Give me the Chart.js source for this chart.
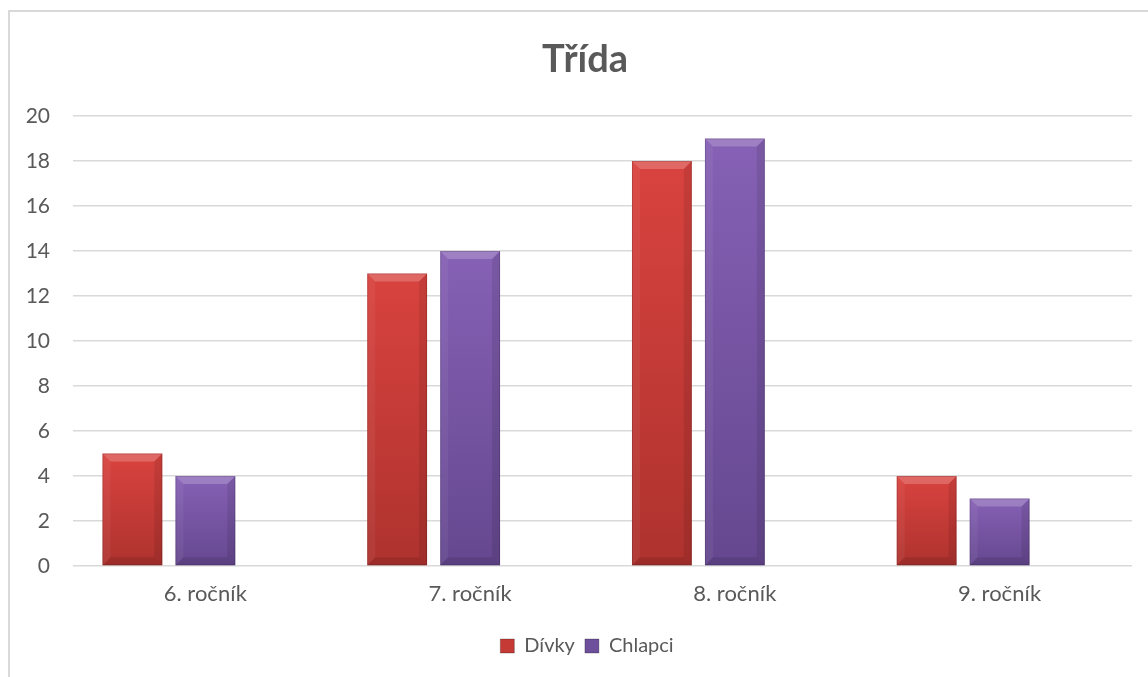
<!DOCTYPE html>
<html>
<head>
<meta charset="utf-8">
<script src="https://cdn.jsdelivr.net/npm/chart.js@4.4.1/dist/chart.umd.min.js"></script>
<style>
html,body{margin:0;padding:0;background:#fff;}
#wrap{width:1148px;height:677px;position:relative;}
</style>
</head>
<body>
<div id="wrap"><canvas id="c" width="1148" height="677"></canvas></div>
<script>
const chartTitle = 'Třída';
const categories = ['6. ročník', '7. ročník', '8. ročník', '9. ročník'];
const divky = [5, 13, 18, 4];
const chlapci = [4, 14, 19, 3];
const emptySeries = [null, null, null, null];
const yMin = 0, yMax = 20, yStep = 2;

const FONT = 'Lato, "Open Sans", sans-serif';
const TEXT = '#595959';

function barGradient(top, bottom) {
  return function (ctx) {
    const chart = ctx.chart;
    if (ctx.type !== 'data' || !chart.chartArea) return top;
    const ys = chart.scales.y;
    const v = ctx.parsed ? ctx.parsed.y : null;
    if (v == null) return top;
    const y1 = ys.getPixelForValue(v), y0 = ys.getPixelForValue(0);
    if (!isFinite(y1) || !isFinite(y0) || y1 === y0) return top;
    const g = chart.ctx.createLinearGradient(0, y1, 0, y0);
    g.addColorStop(0, top);
    g.addColorStop(1, bottom);
    return g;
  };
}

const frame = {
  id: 'frame',
  afterLayout(chart) {
    const lg = chart.legend;
    if (lg) { lg.left += 16; lg.right += 16; }
  },
  beforeDraw(chart) {
    const c = chart.ctx;
    c.save();
    c.strokeStyle = '#d9d9d9';
    c.lineWidth = 2;
    c.beginPath();
    c.moveTo(9, 677);
    c.lineTo(9, 11);
    c.lineTo(1148, 11);
    c.stroke();
    c.restore();
  },
  afterDraw(chart) {
    const c = chart.ctx;
    c.save();
    c.fillStyle = TEXT;
    c.font = 'bold 38px ' + FONT;
    c.textAlign = 'center';
    c.textBaseline = 'alphabetic';
    c.fillText(chartTitle, 585, 72);
    c.restore();
  }
};

const bevel = {
  id: 'bevel',
  afterDatasetsDraw(chart) {
    const c = chart.ctx;
    chart.data.datasets.forEach((ds, i) => {
      const meta = chart.getDatasetMeta(i);
      if (meta.hidden) return;
      meta.data.forEach((el, j) => {
        if (ds.data[j] == null) return;
        const p = el.getProps(['x', 'y', 'base', 'width'], true);
        const l = p.x - p.width / 2, r = p.x + p.width / 2;
        const t = Math.min(p.y, p.base), btm = Math.max(p.y, p.base);
        const h = btm - t;
        const b = Math.min(8, h / 2, p.width / 2);
        c.save();
        const poly = (pts, col) => {
          c.beginPath();
          c.moveTo(pts[0][0], pts[0][1]);
          for (let k = 1; k < pts.length; k++) c.lineTo(pts[k][0], pts[k][1]);
          c.closePath();
          c.fillStyle = col;
          c.fill();
        };
        poly([[l, t], [r, t], [r - b, t + b], [l + b, t + b]], 'rgba(255,255,255,0.2)');
        poly([[l, t], [l + b, t + b], [l + b, btm - b], [l, btm]], 'rgba(255,255,255,0.05)');
        poly([[r, t], [r, btm], [r - b, btm - b], [r - b, t + b]], 'rgba(0,0,0,0.09)');
        poly([[l, btm], [l + b, btm - b], [r - b, btm - b], [r, btm]], 'rgba(0,0,0,0.1)');
        c.strokeStyle = 'rgba(0,0,0,0.15)';
        c.lineWidth = 1;
        c.strokeRect(l + 0.5, t + 0.5, p.width - 1, h - 1);
        c.restore();
      });
    });
  }
};

const chart = new Chart(document.getElementById('c'), {
  type: 'bar',
  data: {
    labels: categories,
    datasets: [
      { label: 'Dívky', data: divky, backgroundColor: barGradient('#D9433F', '#AE322E'), legendColor: '#C63A36' },
      { label: 'Chlapci', data: chlapci, backgroundColor: barGradient('#8661B5', '#65478F'), legendColor: '#6E4F9C' },
      { label: '', data: emptySeries, backgroundColor: 'rgba(0,0,0,0)', legendColor: null }
    ]
  },
  options: {
    responsive: false,
    animation: false,
    devicePixelRatio: 1,
    layout: { padding: { left: 10, right: 16, top: 116, bottom: 11 } },
    datasets: { bar: { categoryPercentage: 0.827, barPercentage: 0.82, borderWidth: 0 } },
    plugins: {
      title: { display: false },
      legend: {
        position: 'bottom',
        labels: {
          font: { family: FONT, size: 20 },
          color: TEXT,
          boxWidth: 14,
          boxHeight: 14,
          padding: 10,
          generateLabels(ch) {
            return ch.data.datasets.map((ds, i) => ({
              text: ds.label, fillStyle: ds.legendColor, strokeStyle: 'rgba(0,0,0,0.25)',
              lineWidth: 1, hidden: false, datasetIndex: i, fontColor: TEXT
            })).filter(it => it.fillStyle);
          }
        }
      },
      tooltip: { enabled: false }
    },
    scales: {
      x: {
        grid: { display: false, drawTicks: false },
        border: { display: false },
        ticks: { color: TEXT, font: { family: FONT, size: 22 }, padding: 15, maxRotation: 0 },
        afterFit(s) { s.height = 60; }
      },
      y: {
        min: yMin, max: yMax,
        grid: { color: '#d9d9d9', lineWidth: 1.5, drawTicks: false },
        border: { display: false },
        ticks: { stepSize: yStep, color: TEXT, font: { family: FONT, size: 21 }, padding: 23 },
        afterFit(s) { s.width = 63; }
      }
    }
  },
  plugins: [frame, bevel]
});
</script>
</body>
</html>
